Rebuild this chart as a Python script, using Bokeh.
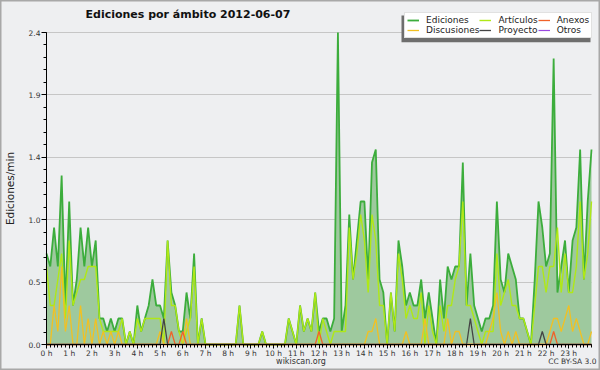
from bokeh.plotting import figure
from bokeh.models import (Range1d, FixedTicker, Label, Legend, LegendItem, BoxAnnotation)
from bokeh.embed import file_html
from bokeh.resources import INLINE

# 10-minute slots from 0 h to 24 h
slots = list(range(145))

ediciones = [
    0.7, 0.6, 0.9, 0.6, 1.3, 0.3, 1.1, 0.3, 0.5, 0.9, 0.6, 0.9,
    0.6, 0.8, 0.2, 0.2, 0.1, 0.2, 0.1, 0.2, 0.2, 0.0, 0.1, 0.0,
    0.3, 0.1, 0.2, 0.3, 0.5, 0.3, 0.3, 0.2, 0.8, 0.4, 0.3, 0.1,
    0.1, 0.4, 0.2, 0.7, 0.0, 0.2, 0.0, 0.0, 0.0, 0.0, 0.0, 0.0,
    0.0, 0.0, 0.0, 0.3, 0.0, 0.0, 0.0, 0.0, 0.0, 0.1, 0.0, 0.0,
    0.0, 0.0, 0.0, 0.0, 0.2, 0.1, 0.0, 0.3, 0.1, 0.2, 0.1, 0.4,
    0.1, 0.2, 0.2, 0.1, 0.2, 2.4, 0.1, 0.3, 1.0, 0.5, 0.8, 1.1,
    1.1, 0.5, 1.4, 1.5, 0.5, 0.4, 0.0, 0.4, 0.1, 0.8, 0.6, 0.3,
    0.4, 0.3, 0.3, 0.5, 0.2, 0.4, 0.2, 0.0, 0.5, 0.2, 0.6, 0.5,
    0.6, 0.6, 1.4, 0.3, 0.7, 0.3, 0.2, 0.1, 0.2, 0.2, 0.3, 1.1,
    0.5, 0.4, 0.7, 0.6, 0.5, 0.2, 0.2, 0.1, 0.0, 0.5, 1.1, 0.9,
    0.6, 0.7, 2.2, 0.4, 0.6, 0.8, 0.4, 0.8, 0.9, 1.5, 0.5, 1.1, 1.5,
]

articulos = [
    0.6, 0.3, 0.3, 0.5, 0.7, 0.2, 0.8, 0.3, 0.4, 0.5, 0.5, 0.6,
    0.6, 0.6, 0.2, 0.1, 0.1, 0.1, 0.1, 0.1, 0.2, 0.0, 0.1, 0.0,
    0.2, 0.1, 0.2, 0.2, 0.2, 0.2, 0.2, 0.0, 0.8, 0.3, 0.3, 0.1,
    0.0, 0.1, 0.2, 0.6, 0.0, 0.2, 0.0, 0.0, 0.0, 0.0, 0.0, 0.0,
    0.0, 0.0, 0.0, 0.3, 0.0, 0.0, 0.0, 0.0, 0.0, 0.1, 0.0, 0.0,
    0.0, 0.0, 0.0, 0.0, 0.2, 0.1, 0.0, 0.3, 0.1, 0.2, 0.1, 0.4,
    0.0, 0.2, 0.1, 0.0, 0.1, 0.1, 0.1, 0.1, 0.9, 0.5, 0.7, 1.0,
    0.8, 0.4, 1.0, 0.8, 0.3, 0.3, 0.0, 0.4, 0.1, 0.7, 0.5, 0.2,
    0.3, 0.2, 0.2, 0.4, 0.0, 0.3, 0.1, 0.0, 0.3, 0.1, 0.3, 0.3,
    0.5, 0.6, 1.1, 0.3, 0.3, 0.2, 0.1, 0.0, 0.1, 0.1, 0.1, 0.7,
    0.3, 0.4, 0.5, 0.3, 0.3, 0.2, 0.2, 0.1, 0.0, 0.3, 0.6, 0.6,
    0.4, 0.6, 0.6, 0.9, 0.4, 0.7, 0.4, 0.4, 0.6, 1.1, 0.5, 0.7, 1.1,
]

discusiones = [
    0.0, 0.0, 0.3, 0.1, 0.6, 0.1, 0.3, 0.0, 0.0, 0.3, 0.0, 0.2,
    0.0, 0.2, 0.0, 0.1, 0.0, 0.1, 0.0, 0.1, 0.0, 0.0, 0.0, 0.0,
    0.0, 0.0, 0.0, 0.0, 0.0, 0.0, 0.1, 0.0, 0.0, 0.0, 0.0, 0.0,
    0.0, 0.2, 0.0, 0.0, 0.0, 0.0, 0.0, 0.0, 0.0, 0.0, 0.0, 0.0,
    0.0, 0.0, 0.0, 0.0, 0.0, 0.0, 0.0, 0.0, 0.0, 0.0, 0.0, 0.0,
    0.0, 0.0, 0.0, 0.0, 0.0, 0.0, 0.0, 0.0, 0.0, 0.0, 0.0, 0.0,
    0.0, 0.0, 0.0, 0.0, 0.0, 0.0, 0.0, 0.0, 0.0, 0.0, 0.0, 0.0,
    0.0, 0.1, 0.1, 0.2, 0.0, 0.0, 0.0, 0.0, 0.0, 0.0, 0.0, 0.1,
    0.0, 0.0, 0.0, 0.0, 0.2, 0.0, 0.0, 0.0, 0.0, 0.0, 0.2, 0.0,
    0.1, 0.1, 0.0, 0.0, 0.0, 0.0, 0.0, 0.0, 0.0, 0.1, 0.2, 0.4,
    0.1, 0.0, 0.1, 0.0, 0.1, 0.0, 0.0, 0.0, 0.0, 0.0, 0.0, 0.0,
    0.0, 0.1, 0.2, 0.2, 0.1, 0.2, 0.3, 0.1, 0.2, 0.1, 0.0, 0.0, 0.1,
]

anexos = [
    0.0, 0.0, 0.0, 0.0, 0.0, 0.0, 0.0, 0.0, 0.0, 0.0, 0.0, 0.0,
    0.0, 0.0, 0.0, 0.0, 0.0, 0.0, 0.0, 0.0, 0.0, 0.0, 0.0, 0.0,
    0.0, 0.0, 0.0, 0.0, 0.0, 0.0, 0.0, 0.0, 0.0, 0.1, 0.0, 0.0,
    0.1, 0.0, 0.0, 0.0, 0.0, 0.0, 0.0, 0.0, 0.0, 0.0, 0.0, 0.0,
    0.0, 0.0, 0.0, 0.0, 0.0, 0.0, 0.0, 0.0, 0.0, 0.0, 0.0, 0.0,
    0.0, 0.0, 0.0, 0.0, 0.0, 0.0, 0.0, 0.0, 0.0, 0.0, 0.0, 0.0,
    0.1, 0.0, 0.0, 0.0, 0.0, 0.0, 0.0, 0.0, 0.0, 0.0, 0.0, 0.0,
    0.0, 0.0, 0.0, 0.0, 0.0, 0.0, 0.0, 0.0, 0.0, 0.0, 0.0, 0.0,
    0.0, 0.0, 0.0, 0.0, 0.0, 0.0, 0.0, 0.0, 0.0, 0.0, 0.0, 0.0,
    0.0, 0.0, 0.0, 0.0, 0.0, 0.0, 0.0, 0.0, 0.0, 0.0, 0.0, 0.0,
    0.0, 0.0, 0.0, 0.0, 0.0, 0.0, 0.0, 0.0, 0.0, 0.0, 0.0, 0.0,
    0.0, 0.0, 0.1, 0.0, 0.0, 0.0, 0.0, 0.0, 0.0, 0.0, 0.0, 0.0, 0.0,
]

proyecto = [
    0.0, 0.0, 0.0, 0.0, 0.0, 0.0, 0.0, 0.0, 0.0, 0.0, 0.0, 0.0,
    0.0, 0.0, 0.0, 0.0, 0.0, 0.0, 0.0, 0.0, 0.0, 0.0, 0.0, 0.0,
    0.0, 0.0, 0.0, 0.0, 0.0, 0.0, 0.0, 0.2, 0.0, 0.0, 0.0, 0.0,
    0.0, 0.0, 0.0, 0.0, 0.0, 0.0, 0.0, 0.0, 0.0, 0.0, 0.0, 0.0,
    0.0, 0.0, 0.0, 0.0, 0.0, 0.0, 0.0, 0.0, 0.0, 0.0, 0.0, 0.0,
    0.0, 0.0, 0.0, 0.0, 0.0, 0.0, 0.0, 0.0, 0.0, 0.0, 0.0, 0.0,
    0.0, 0.0, 0.0, 0.0, 0.0, 0.0, 0.0, 0.0, 0.0, 0.0, 0.0, 0.0,
    0.0, 0.0, 0.0, 0.0, 0.0, 0.0, 0.0, 0.0, 0.0, 0.0, 0.0, 0.0,
    0.0, 0.0, 0.0, 0.0, 0.0, 0.0, 0.0, 0.0, 0.0, 0.0, 0.0, 0.0,
    0.0, 0.0, 0.0, 0.0, 0.2, 0.0, 0.0, 0.0, 0.0, 0.0, 0.0, 0.0,
    0.0, 0.0, 0.0, 0.0, 0.0, 0.0, 0.0, 0.0, 0.0, 0.0, 0.0, 0.1,
    0.0, 0.0, 0.0, 0.0, 0.0, 0.0, 0.0, 0.0, 0.0, 0.0, 0.0, 0.0, 0.0,
]

otros = [
    0.0, 0.0, 0.0, 0.0, 0.0, 0.0, 0.0, 0.0, 0.0, 0.0, 0.0, 0.0,
    0.0, 0.0, 0.0, 0.0, 0.0, 0.0, 0.0, 0.0, 0.0, 0.0, 0.0, 0.0,
    0.0, 0.0, 0.0, 0.0, 0.0, 0.0, 0.0, 0.0, 0.0, 0.0, 0.0, 0.0,
    0.0, 0.0, 0.0, 0.0, 0.0, 0.0, 0.0, 0.0, 0.0, 0.0, 0.0, 0.0,
    0.0, 0.0, 0.0, 0.0, 0.0, 0.0, 0.0, 0.0, 0.0, 0.0, 0.0, 0.0,
    0.0, 0.0, 0.0, 0.0, 0.0, 0.0, 0.0, 0.0, 0.0, 0.0, 0.0, 0.0,
    0.0, 0.0, 0.0, 0.0, 0.0, 0.0, 0.0, 0.0, 0.0, 0.0, 0.0, 0.0,
    0.0, 0.0, 0.0, 0.0, 0.0, 0.0, 0.0, 0.0, 0.0, 0.0, 0.0, 0.0,
    0.0, 0.0, 0.0, 0.0, 0.0, 0.0, 0.0, 0.0, 0.0, 0.0, 0.0, 0.0,
    0.0, 0.0, 0.0, 0.0, 0.0, 0.0, 0.0, 0.0, 0.0, 0.0, 0.0, 0.0,
    0.0, 0.0, 0.0, 0.0, 0.0, 0.0, 0.0, 0.0, 0.0, 0.0, 0.0, 0.0,
    0.0, 0.0, 0.0, 0.0, 0.0, 0.0, 0.0, 0.0, 0.0, 0.0, 0.0, 0.0, 0.0,
]

series_names = ["Ediciones", "Artículos", "Anexos", "Discusiones", "Proyecto", "Otros"]

hour_ticks = [0, 6, 12, 18, 24, 30, 36, 42, 48, 54, 60, 66,
              72, 78, 84, 90, 96, 102, 108, 114, 120, 126, 132, 138]
hour_labels = ["0 h", "1 h", "2 h", "3 h", "4 h", "5 h", "6 h", "7 h", "8 h", "9 h",
               "10 h", "11 h", "12 h", "13 h", "14 h", "15 h", "16 h", "17 h", "18 h",
               "19 h", "20 h", "21 h", "22 h", "23 h"]
y_ticks = [0, 0.48, 0.96, 1.44, 1.92, 2.4]
y_labels = ["0.0", "0.5", "1.0", "1.4", "1.9", "2.4"]

BG = "#eeeff1"
C_ED = "#3cad3c"
C_ED_FILL = "#9ec99e"
C_ART = "#b0e816"
C_DIS = "#f2c022"
C_ANX = "#f0622a"
C_PRO = "#444444"
C_OTR = "#9a48e0"
GRID = "#c6c6c6"
FONT = "DejaVu Sans"

# geometry (the frame fills the whole figure; axes sit at fixed data positions)
W, H = 600, 370
X0_PX, XEND_PX = 46.0, 591.0          # pixel columns of slot 0 and slot 144
ZERO_PX, PX_PER_UNIT = 344.0, 130.0   # pixel row of 0 and pixels per edit/min
px_per_slot = (XEND_PX - X0_PX) / 144
x_lo = -X0_PX / px_per_slot
x_hi = x_lo + W / px_per_slot
y_lo = -(H - ZERO_PX) / PX_PER_UNIT
y_hi = y_lo + H / PX_PER_UNIT

p = figure(width=W, height=H, output_backend="svg", toolbar_location=None,
           x_range=Range1d(x_lo, x_hi), y_range=Range1d(y_lo, y_hi),
           min_border_left=0, min_border_right=0, min_border_top=0, min_border_bottom=0,
           background_fill_color=BG, border_fill_color=BG,
           outline_line_color="#a8a8a8", outline_line_width=2)
p.title.visible = False

# grid lines only between the axis and the right edge
grid = p.ygrid[0]
if "cross_bounds" in grid.properties():
    grid.ticker = FixedTicker(ticks=y_ticks[1:])
    grid.cross_bounds = (0, 144)
    grid.grid_line_color = GRID
    grid.grid_line_width = 1
else:
    grid.visible = False
    p.segment(x0=[0] * 5, x1=[144] * 5, y0=y_ticks[1:], y1=y_ticks[1:],
              line_color=GRID, line_width=1, level="underlay")
p.xgrid.visible = False

p.varea(x=slots, y1=0, y2=ediciones, fill_color=C_ED_FILL, fill_alpha=1.0)
r_otr = p.line(slots, otros, line_color=C_OTR, line_width=1.2)
r_ed = p.line(slots, ediciones, line_color=C_ED, line_width=1.8)
r_art = p.line(slots, articulos, line_color=C_ART, line_width=1.4)
r_dis = p.line(slots, discusiones, line_color=C_DIS, line_width=1.3)
r_anx = p.line(slots, anexos, line_color=C_ANX, line_width=1.3)
r_pro = p.line(slots, proyecto, line_color=C_PRO, line_width=1.3)

# x axis drawn at y = 0
xa = p.xaxis[0]
xa.fixed_location = 0
xa.bounds = (0, 144)
xa.ticker = FixedTicker(ticks=hour_ticks, minor_ticks=slots)
xa.major_label_overrides = dict(zip(hour_ticks, hour_labels))
xa.major_tick_out = 4
xa.major_tick_in = 0
xa.minor_tick_out = 3
xa.minor_tick_in = 0
xa.major_label_standoff = 0
xa.major_label_text_font = FONT
xa.major_label_text_font_size = "7.5px"
xa.major_label_text_color = "#333333"
xa.axis_line_color = "black"
xa.major_tick_line_color = "black"
xa.minor_tick_line_color = "black"

# y axis drawn at slot 0
ya = p.yaxis[0]
ya.fixed_location = 0
ya.bounds = (0, 2.4)
ya.ticker = FixedTicker(ticks=y_ticks, minor_ticks=[round(i * 0.096, 3) for i in range(26)])
ya.major_label_overrides = dict(zip(y_ticks, y_labels))
ya.major_tick_out = 5
ya.major_tick_in = 0
ya.minor_tick_out = 3
ya.minor_tick_in = 0
ya.major_label_standoff = 1
ya.major_label_text_font = FONT
ya.major_label_text_font_size = "7.5px"
ya.major_label_text_color = "#333333"
ya.axis_label = "Ediciones/min"
ya.axis_label_text_font = FONT
ya.axis_label_text_font_size = "10.5px"
ya.axis_label_text_font_style = "normal"
ya.axis_label_text_color = "#222222"
ya.axis_label_standoff = 10
ya.axis_line_color = "black"
ya.major_tick_line_color = "black"
ya.minor_tick_line_color = "black"

# texts (screen units measured from the frame's bottom-left corner = figure corner)
p.add_layout(Label(x=85, y=H - 13.5, x_units="screen", y_units="screen",
                   text="Ediciones por ámbito  2012-06-07", text_font=FONT,
                   text_font_size="11px", text_font_style="bold", text_color="#111111",
                   text_baseline="middle", text_align="left"))
p.add_layout(Label(x=300.5, y=H - 361, x_units="screen", y_units="screen",
                   text="wikiscan.org", text_font=FONT, text_font_size="8px",
                   text_color="#333333", text_baseline="middle", text_align="center"))
p.add_layout(Label(x=596, y=H - 361, x_units="screen", y_units="screen",
                   text="CC BY-SA 3.0", text_font=FONT, text_font_size="7.5px",
                   text_color="#333333", text_baseline="middle", text_align="right"))

# legend with its shadow (shadow offset 3 px left/down)
LEG_L, LEG_B = 404, H - 38.3
p.add_layout(BoxAnnotation(left=LEG_L - 3, right=590, top=H - 15, bottom=LEG_B - 3.4,
                           left_units="screen", right_units="screen",
                           top_units="screen", bottom_units="screen",
                           fill_color="#6e6e6e", fill_alpha=1.0, line_color=None))

legend = Legend(items=[
    LegendItem(label=series_names[0], renderers=[r_ed]),
    LegendItem(label=series_names[1], renderers=[r_art]),
    LegendItem(label=series_names[2], renderers=[r_anx]),
    LegendItem(label=series_names[3], renderers=[r_dis]),
    LegendItem(label=series_names[4], renderers=[r_pro]),
    LegendItem(label=series_names[5], renderers=[r_otr]),
], location=(LEG_L, LEG_B), orientation="horizontal", ncols=3,
    glyph_width=12, glyph_height=8, label_height=8, label_standoff=7,
    spacing=0, padding=2, margin=0,
    label_text_font=FONT, label_text_font_size="9px", label_text_color="#222222",
    border_line_color="#c4c4c4", border_line_width=1,
    background_fill_color="white", background_fill_alpha=1.0)
p.add_layout(legend, "center")

open("out.html", "w").write(file_html(p, INLINE))
